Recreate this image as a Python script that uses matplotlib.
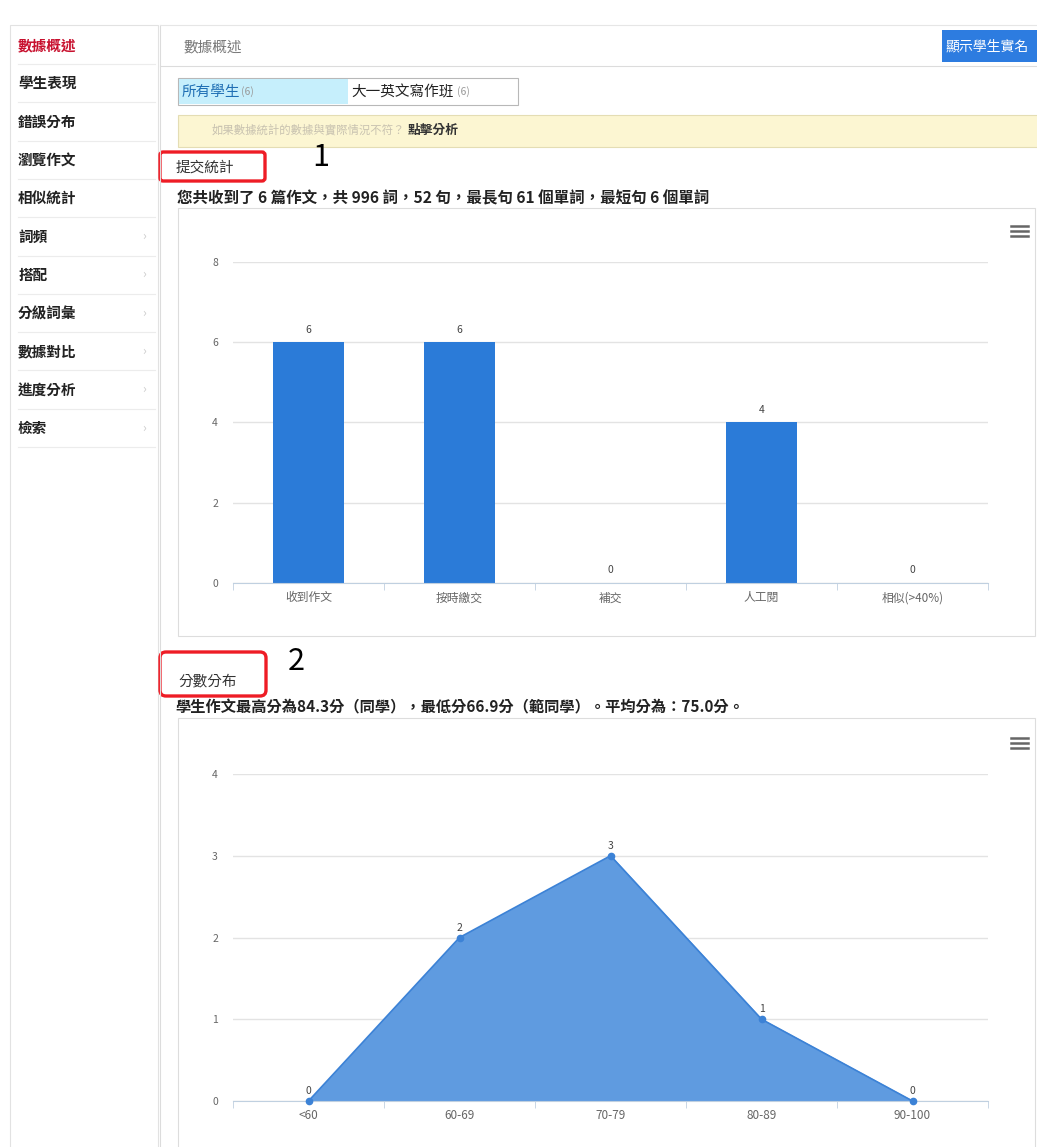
import numpy as np
import matplotlib
matplotlib.use('Agg')
from matplotlib import pyplot as plt
from matplotlib.patches import Rectangle, FancyBboxPatch

plt.rcParams['font.family'] = ['Noto Sans CJK TC', 'DejaVu Sans']

""" Data """
menu_items = ['數據概述', '學生表現', '錯誤分布', '瀏覽作文', '相似統計',
              '詞頻', '搭配', '分級詞彙', '數據對比', '進度分析', '檢索']
menu_arrow = [False, False, False, False, False, True, True, True, True, True, True]

sub_cats = ['收到作文', '按時繳交', '補交', '人工閱', '相似(>40%)']
sub_vals = [6, 6, 0, 4, 0]
sub_yticks = [0, 2, 4, 6, 8]

score_cats = ['<60', '60-69', '70-79', '80-89', '90-100']
score_vals = [0, 2, 3, 1, 0]
score_yticks = [0, 1, 2, 3, 4]

W, H = 1037, 1147
fig = plt.figure(figsize=(W / 100, H / 100), dpi=100)
fig.patch.set_facecolor('white')

# background axes in pixel coordinates
bg = fig.add_axes([0, 0, 1, 1])
bg.set_xlim(0, W)
bg.set_ylim(H, 0)
bg.axis('off')


def rect(x0, y0, x1, y1, **kw):
    bg.add_patch(Rectangle((x0, y0), x1 - x0, y1 - y0, **kw))


def hline(y, x0, x1, color='#e4e4e4', lw=0.8):
    bg.plot([x0, x1], [y, y], color=color, lw=lw)


""" Sidebar """
rect(10, 25, 158, H + 5, facecolor='white', edgecolor='#e2e2e2', lw=0.8)
y = 45
for name, arrow in zip(menu_items, menu_arrow):
    col = '#c8102e' if name == '數據概述' else '#222222'
    bg.text(18, y, name, fontsize=10.5, fontweight='bold', color=col, va='center')
    if arrow:
        bg.text(144, y, '›', fontsize=9, color='#cccccc', va='center', ha='center')
    hline(y + 19, 18, 155, color='#ececec')
    y += 38.3

""" Main panel header """
bg.plot([160, 160], [25, H], color='#dcdcdc', lw=0.8)
hline(25, 160, W, color='#e6e6e6')
hline(66, 160, W, color='#dcdcdc')
bg.text(183, 47, '數據概述', fontsize=10.5, color='#777777', va='center')
rect(942, 30, W + 5, 62, facecolor='#2d7ce0', edgecolor='none')
bg.text(946, 46, '顯示學生實名', fontsize=10, color='white', va='center')

""" Tabs """
rect(178, 78, 518, 105, facecolor='white', edgecolor='#b8b8b8', lw=0.8)
rect(179, 79, 348, 104, facecolor='#c6effc', edgecolor='none')
bg.text(182, 92, '所有學生', fontsize=10.5, color='#1f6fb4', va='center')
bg.text(241, 92, '(6)', fontsize=7.5, color='#999999', va='center')
bg.text(351, 92, '大一英文寫作班', fontsize=10.5, color='#222222', va='center')
bg.text(457, 92, '(6)', fontsize=7.5, color='#999999', va='center')

""" Notice banner """
rect(178, 115, W + 5, 147, facecolor='#fcf6d2', edgecolor='#e4ddb4', lw=0.8)
bg.text(212, 130, '如果數據統計的數據與實際情況不符？', fontsize=8.2, color='#c8c2b0', va='center')
bg.text(408, 130, '點擊分析', fontsize=9.2, color='#333333', fontweight='bold', va='center')

""" Section 1 """
bg.add_patch(FancyBboxPatch((160, 152), 105, 29, boxstyle='round,pad=0,rounding_size=3',
                            facecolor='none', edgecolor='#ee1c25', lw=2.4))
bg.text(176, 168, '提交統計', fontsize=10.5, color='#333333', va='center')
bg.text(321, 157, '1', fontsize=22, color='black', va='center', ha='center')
bg.text(177, 198, '您共收到了 6 篇作文，共 996 詞，52 句，最長句 61 個單詞，最短句 6 個單詞',
        fontsize=11.2, fontweight='bold', color='#222222', va='center')
rect(178, 208, 1035, 636, facecolor='white', edgecolor='#dddddd', lw=0.8)

""" Section 2 """
bg.add_patch(FancyBboxPatch((160, 652), 106, 44, boxstyle='round,pad=0,rounding_size=6',
                            facecolor='none', edgecolor='#ee1c25', lw=2.4))
bg.text(178, 681, '分數分布', fontsize=10.5, color='#333333', va='center')
bg.text(296, 662, '2', fontsize=22, color='black', va='center', ha='center')
bg.text(175, 707, '學生作文最高分為84.3分（同學），最低分66.9分（範同學）。平均分為：75.0分。',
        fontsize=11, fontweight='bold', color='#222222', va='center')
rect(178, 718, 1035, H + 5, facecolor='white', edgecolor='#dddddd', lw=0.8)

# export menu icons
for top in (226, 738):
    for k in range(3):
        hline(top + k * 5, 1011, 1028, color='#666666', lw=1.8)


def px_axes(x0, y_top, x1, y_bot):
    return fig.add_axes([x0 / W, 1 - y_bot / H, (x1 - x0) / W, (y_bot - y_top) / H])


def style_axes(ax, cats, yticks, xsize):
    n = len(cats)
    ax.set_xlim(-0.5, n - 0.5)
    ax.set_ylim(yticks[0], yticks[-1])
    ax.set_yticks(yticks)
    ax.set_xticks(range(n))
    ax.set_xticklabels(cats)
    ax.set_xticks(np.arange(-0.5, n, 1), minor=True)
    ax.grid(axis='y', color='#e3e3e3', lw=1)
    ax.set_axisbelow(True)
    for s in ('top', 'right', 'left'):
        ax.spines[s].set_visible(False)
    ax.spines['bottom'].set_color('#c0d0e0')
    ax.tick_params(axis='x', which='major', length=0, pad=6, labelsize=xsize, labelcolor='#666666')
    ax.tick_params(axis='x', which='minor', length=5, color='#c0d0e0')
    ax.tick_params(axis='y', length=0, pad=15, labelsize=7.5, labelcolor='#666666')
    for lab in ax.get_yticklabels():
        lab.set_horizontalalignment('left')
    ax.patch.set_alpha(0)


""" Chart 1: submission bar chart """
ax1 = px_axes(233, 262, 988, 583)
style_axes(ax1, sub_cats, sub_yticks, 8.5)
ax1.bar(range(len(sub_vals)), sub_vals, width=0.47, color='#2b7bd8', zorder=2)
for i, v in enumerate(sub_vals):
    ax1.annotate(str(v), (i, v), xytext=(0, 7), textcoords='offset points',
                 ha='center', fontsize=7.5, color='#444444')

""" Chart 2: score distribution area chart """
ax2 = px_axes(233, 774, 988, 1101)
style_axes(ax2, score_cats, score_yticks, 8.5)
xs = np.arange(len(score_vals))
ax2.fill_between(xs, score_vals, 0, color='#5f9be0', zorder=2)
ax2.plot(xs, score_vals, color='#3c82d6', lw=1.2, marker='o', ms=4.5, zorder=3, clip_on=False)
for i, v in enumerate(score_vals):
    ax2.annotate(str(v), (i, v), xytext=(0, 5), textcoords='offset points',
                 ha='center', fontsize=7.5, color='#444444')

plt.savefig('out.png', dpi=100)
